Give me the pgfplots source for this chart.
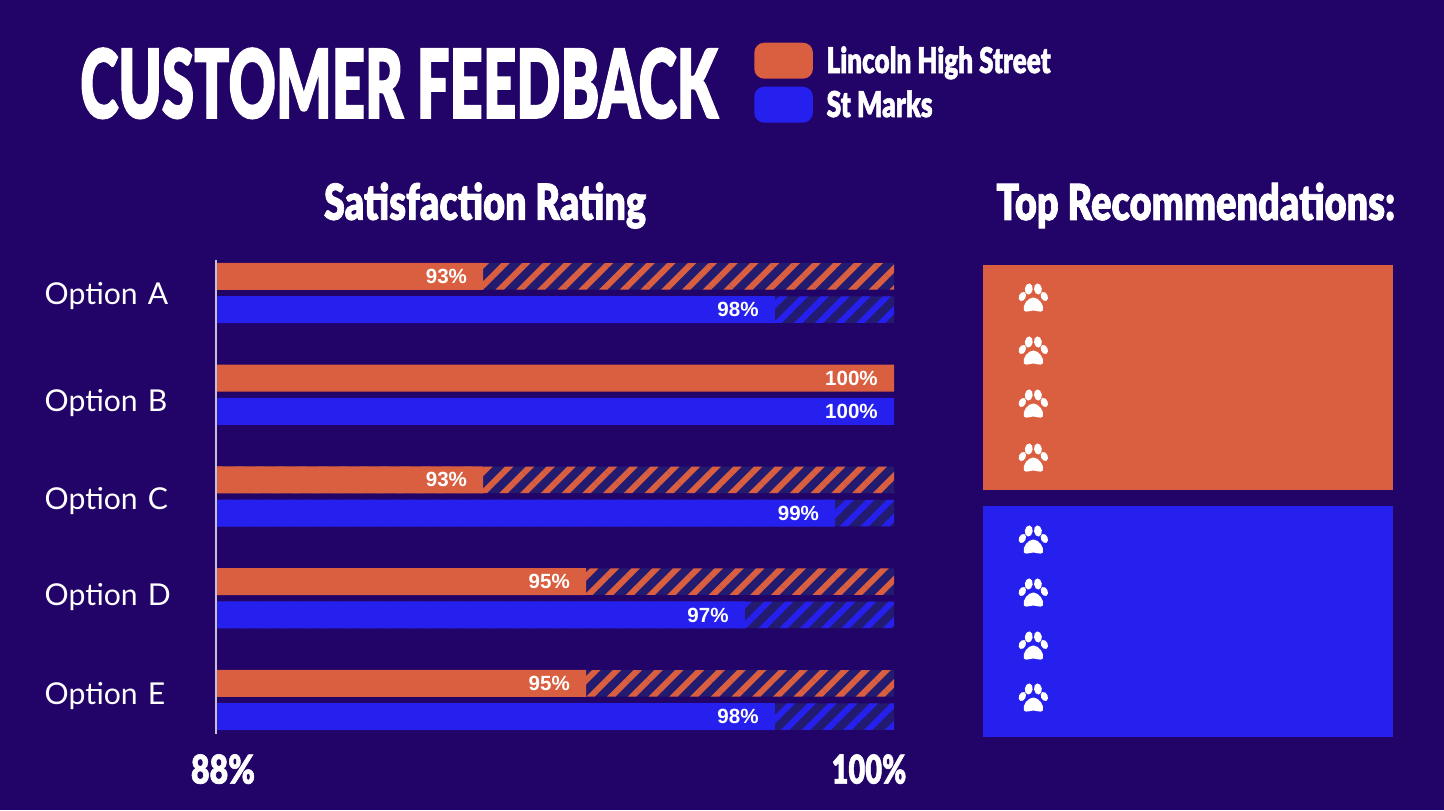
\documentclass[border=0pt]{standalone}
\usepackage{fontspec}
\usepackage{graphicx}
\usepackage{pgfplots}
\pgfplotsset{compat=1.18}
\usetikzlibrary{patterns.meta}
\setmainfont{Lato}
\newfontfamily\anton[UprightFont={* Black},FakeBold=1.7]{Lato}
\newfontfamily\lab[UprightFont={* Bold}]{Liberation Sans}
\definecolor{bg}{HTML}{220368}
\definecolor{org}{HTML}{DA5F40}
\definecolor{blu}{HTML}{2620EE}
\definecolor{hat}{HTML}{231B6F}
% width, height in pt, text
\newcommand\ant[3]{\resizebox{#1pt}{#2pt}{\anton #3}}
\newcommand\paw[2]{%
  \begin{scope}[shift={(#1pt,#2pt)},x=0.75pt,y=-0.75pt]
    \fill[white,rotate around={-8:(-4.6,-9)}] (-4.6,-9) ellipse (3.9 and 5.6);
    \fill[white,rotate around={8:(4.6,-9)}] (4.6,-9) ellipse (3.9 and 5.6);
    \fill[white,rotate around={-25:(-11,-1.5)}] (-11,-1.5) ellipse (3.4 and 4.8);
    \fill[white,rotate around={25:(11,-1.5)}] (11,-1.5) ellipse (3.4 and 4.8);
    \fill[white] (-9.5,12.5) .. controls (-11.5,7) and (-5,-0.5) .. (0,-0.5)
      .. controls (5,-0.5) and (11.5,7) .. (9.5,12.5)
      .. controls (7,15) and (3,12.5) .. (0,12.5)
      .. controls (-3,12.5) and (-7,15) .. (-9.5,12.5) -- cycle;
  \end{scope}}
\begin{document}
\begin{tikzpicture}
\useasboundingbox (0,0) rectangle (1083pt,607.5pt);
\fill[bg] (0,0) rectangle (1083pt,607.5pt);
% title
\node[anchor=base west,inner sep=0,text=white] at (60pt,519pt) {\ant{478}{52.5}{CUSTOMER FEEDBACK}};
\node[anchor=base west,inner sep=0,text=white] at (747pt,442.5pt) {\ant{299}{28}{Top Recommendations:}};
% right panels
\fill[org] (737.25pt,240pt) rectangle (1044.75pt,408.75pt);
\fill[blu] (737.25pt,54.75pt) rectangle (1044.75pt,228pt);
\paw{775}{384}\paw{775}{344.25}\paw{775}{304.5}\paw{775}{264}
\paw{775}{202.5}\paw{775}{162.75}\paw{775}{123}\paw{775}{84}
\begin{axis}[
  at={(162pt,57pt)}, anchor=south west,
  scale only axis, width=508.5pt, height=355.5pt,
  xbar, bar width=20.25pt,
  xmin=88, xmax=100,
  y dir=reverse,
  ymin=-0.3243, ymax=4.334,
  xtick={88,100},
  xticklabels={{\hspace{10.5pt}\ant{48}{22}{88\%}},{\ant{56}{22}{100\%}\rule{37.5pt}{0pt}}},
  ytick={0.01,1.06,2.02,2.97,3.94},
  yticklabels={Option A,Option B,Option C,Option D,Option E},
  major tick length=0pt,
  axis lines=left,
  axis line style={-},
  x axis line style={draw=none},
  y axis line style={draw=white!75!bg,line width=1.1pt},
  axis on top,
  yticklabel style={text=white,font=\fontsize{22.6}{23}\selectfont,text width=110pt,align=left,inner sep=0pt,xshift=-18.25pt,yshift=-1.5pt},
  xticklabel style={text=white,inner sep=0pt,yshift=-15pt},
  title={\ant{241.5}{28}{Satisfaction Rating}},
  title style={at={(0.3968,1.098)},anchor=center,text=white,inner sep=0pt},
  legend style={at={(0.7935,1.459)},anchor=north west,draw=none,fill=none,text=white,
    cells={anchor=west},inner sep=0pt,row sep=6pt,
    /tikz/every odd column/.append style={column sep=8.25pt}},
  legend image code/.code={\fill[#1,rounded corners=7.5pt] (0pt,-13.5pt) rectangle (44pt,13.5pt);},
  clip=false,
]
% hatched remainder, drawn to 100% behind each solid bar
\addplot[forget plot,bar width=19.9pt,bar shift=12.5pt,draw=none,fill=hat,postaction={pattern={Lines[angle=45,distance=11pt,line width=4.5pt]},pattern color=org}]
  coordinates {(100,0)(100,2)(100,3)(100,4)};
\addplot[forget plot,bar width=19.9pt,bar shift=-12.5pt,draw=none,fill=hat,postaction={pattern={Lines[angle=45,distance=11pt,line width=4.5pt]},pattern color=blu}]
  coordinates {(100,0)(100,2)(100,3)(100,4)};
\addplot[bar shift=12.5pt,draw=none,fill=org,
  point meta=x,
  nodes near coords={\pgfmathprintnumber[fixed,precision=0,assume math mode=true]{\pgfplotspointmeta}\%},
  every node near coord/.append style={anchor=east,text=white,font=\lab\fontsize{15.4}{15.4}\selectfont,inner sep=0pt,xshift=-12pt}]
  coordinates {(92.73,0)(100,1)(92.73,2)(94.55,3)(94.55,4)};
\addlegendentry{\ant{168}{20}{Lincoln High Street}}
\addplot[bar shift=-12.5pt,draw=none,fill=blu,
  point meta=x,
  nodes near coords={\pgfmathprintnumber[fixed,precision=0,assume math mode=true]{\pgfplotspointmeta}\%},
  every node near coord/.append style={anchor=east,text=white,font=\lab\fontsize{15.4}{15.4}\selectfont,inner sep=0pt,xshift=-12pt}]
  coordinates {(97.89,0)(100,1)(98.96,2)(97.36,3)(97.89,4)};
\addlegendentry{\ant{79.5}{20}{St Marks}}
\end{axis}
\end{tikzpicture}
\end{document}
